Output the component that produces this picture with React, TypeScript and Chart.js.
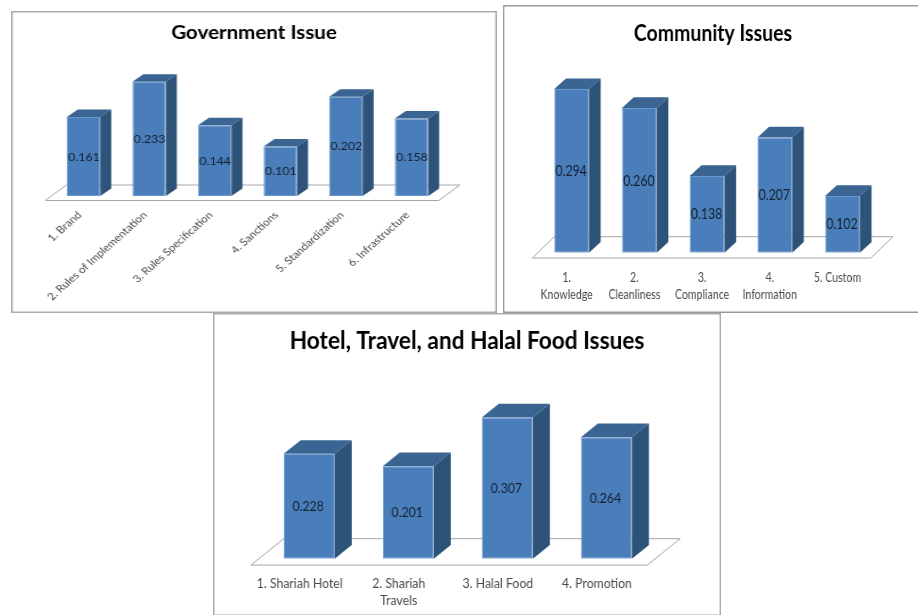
import React, { useEffect, useRef } from "react";
import { Chart, registerables } from "chart.js";

Chart.register(...registerables);

const governmentLabels = [
  "1. Brand",
  "2. Rules of Implementation",
  "3. Rules Specification",
  "4. Sanctions",
  "5. Standardization",
  "6. Infrastructure",
];
const governmentValues = [0.161, 0.233, 0.144, 0.101, 0.202, 0.158];

const communityLabels = [
  ["1.", "Knowledge"],
  ["2.", "Cleanliness"],
  ["3.", "Compliance"],
  ["4.", "Information"],
  "5. Custom",
];
const communityValues = [0.294, 0.26, 0.138, 0.207, 0.102];

const hotelLabels = [
  "1. Shariah Hotel",
  ["2. Shariah", "Travels"],
  "3. Halal Food",
  "4. Promotion",
];
const hotelValues = [0.228, 0.201, 0.307, 0.264];

const FRONT = "#4a7ebb";
const SIDE = "#2e5378";
const TOP = "#3a6492";
const EDGE = "#6d98cd";
const FLOOR = "#a6a6a6";

type Cfg = {
  title: string;
  labels: any[];
  values: number[];
  box: { x: number; y: number; w: number; h: number };
  k: number; // logical canvas px per screen px, horizontally
  frame: string;
  padL: number;
  padR: number;
  axisH: number;
  yMax: number;
  barPct: number;
  depth: [number, number];
  floor: { shift: number; front: number; back: number; dx: number };
  titleFont: any;
  titleTop: number;
  tickFont: any;
  tickPad: number;
  labelOffset: number;
  rotation: number;
  valueFont: string;
  valueShift: number;
};

const LATO = "Lato, sans-serif";

const charts: Cfg[] = [
  {
    title: "Government Issue",
    labels: governmentLabels,
    values: governmentValues,
    box: { x: 11, y: 11, w: 486, h: 302 },
    k: 0.877,
    frame: "#ababab",
    padL: 39.7,
    padR: 52.7,
    axisH: 117,
    yMax: 0.3138,
    barPct: 0.51,
    depth: [11, 7.5],
    floor: { shift: -5.5, front: 4.5, back: 11, dx: 21 },
    titleFont: { family: LATO, size: 18, weight: "bold", lineHeight: 1 },
    titleTop: 13,
    tickFont: { family: LATO, size: 10.2, lineHeight: 1.2 },
    tickPad: 13,
    labelOffset: -4,
    rotation: 45.5,
    valueFont: `10.9px ${LATO}`,
    valueShift: 0.5,
  },
  {
    title: "Community Issues",
    labels: communityLabels,
    values: communityValues,
    box: { x: 503, y: 5, w: 420, h: 308 },
    k: 1.18,
    frame: "#999999",
    padL: 34.8,
    padR: 46.7,
    axisH: 60.3,
    yMax: 0.3724,
    barPct: 0.5125,
    depth: [11.7, 10.7],
    floor: { shift: -5.5, front: 5.3, back: 16, dx: 22 },
    titleFont: { family: LATO, size: 23, weight: "bold", lineHeight: 1 },
    titleTop: 17.5,
    tickFont: { family: LATO, size: 12.5, lineHeight: 1.36 },
    tickPad: 16.5,
    labelOffset: -5,
    rotation: 0,
    valueFont: `14.5px ${LATO}`,
    valueShift: -0.5,
  },
  {
    title: "Hotel, Travel, and Halal Food Issues",
    labels: hotelLabels,
    values: hotelValues,
    box: { x: 213, y: 313, w: 508, h: 303 },
    k: 1.06,
    frame: "#ababab",
    padL: 46.6,
    padR: 65,
    axisH: 57.2,
    yMax: 0.447,
    barPct: 0.515,
    depth: [17, 13.7],
    floor: { shift: -8.7, front: 6.3, back: 20.1, dx: 32.8 },
    titleFont: { family: LATO, size: 24, weight: "bold", lineHeight: 1 },
    titleTop: 16,
    tickFont: { family: LATO, size: 13, lineHeight: 1.3 },
    tickPad: 17,
    labelOffset: -9.5,
    rotation: 0,
    valueFont: `13px ${LATO}`,
    valueShift: -1,
  },
];

const poly = (ctx: CanvasRenderingContext2D, pts: number[][], fill: string, stroke?: string) => {
  ctx.beginPath();
  pts.forEach(([x, y], i) => (i ? ctx.lineTo(x, y) : ctx.moveTo(x, y)));
  ctx.closePath();
  ctx.fillStyle = fill;
  ctx.fill();
  if (stroke) {
    ctx.strokeStyle = stroke;
    ctx.stroke();
  }
};

const threeD = (cfg: Cfg) => ({
  id: "threeD",
  afterLayout(chart: any) {
    // centre the title on the whole panel, not on the padded area
    if (chart.titleBlock) {
      chart.titleBlock.left = 0;
      chart.titleBlock.right = chart.width;
    }
  },
  beforeDraw(chart: any) {
    const { ctx, width, height } = chart;
    ctx.save();
    ctx.fillStyle = "#fff";
    ctx.fillRect(0, 0, width, height);
    ctx.lineWidth = 1.5;
    ctx.strokeStyle = cfg.frame;
    ctx.strokeRect(0.75, 0.75, width - 1.5, cfg.box.h - 1.5);
    ctx.restore();
  },
  beforeDatasetsDraw(chart: any) {
    const { ctx, chartArea } = chart;
    const { left, right, bottom } = chartArea;
    const f = cfg.floor;
    const k = cfg.k;
    ctx.save();
    ctx.lineWidth = 1;
    poly(
      ctx,
      [
        [left + f.shift * k, bottom + f.front],
        [right + f.shift * k, bottom + f.front],
        [right + (f.shift + f.dx) * k, bottom - f.back],
        [left + (f.shift + f.dx) * k, bottom - f.back],
      ],
      "#fff",
      FLOOR
    );
    const dx = cfg.depth[0] * k;
    const dy = cfg.depth[1];
    chart.getDatasetMeta(0).data.forEach((bar: any) => {
      const { x, y, base, width: w } = bar.getProps(["x", "y", "base", "width"], true);
      const l = x - w / 2;
      const r = x + w / 2;
      poly(ctx, [[r, y], [r + dx, y - dy], [r + dx, base - dy], [r, base]], SIDE);
      poly(ctx, [[l, y], [l + dx, y - dy], [r + dx, y - dy], [r, y]], TOP);
    });
    ctx.restore();
  },
  afterDatasetsDraw(chart: any) {
    const { ctx } = chart;
    ctx.save();
    ctx.font = cfg.valueFont;
    ctx.fillStyle = "#14202e";
    ctx.textAlign = "center";
    ctx.textBaseline = "middle";
    chart.getDatasetMeta(0).data.forEach((bar: any, i: number) => {
      const { x, y, base } = bar.getProps(["x", "y", "base"], true);
      ctx.fillText(cfg.values[i].toFixed(3), x + cfg.valueShift * cfg.k, (y + base) / 2 + 0.5);
    });
    ctx.restore();
  },
});

function Panel({ cfg }: { cfg: Cfg }) {
  const ref = useRef<HTMLCanvasElement>(null);
  const logicalW = Math.round(cfg.box.w * cfg.k);
  useEffect(() => {
    const chart = new Chart(ref.current as HTMLCanvasElement, {
      type: "bar",
      data: {
        labels: cfg.labels,
        datasets: [
          {
            data: cfg.values,
            backgroundColor: FRONT,
            borderColor: EDGE,
            borderWidth: 1,
            borderSkipped: false,
            barPercentage: cfg.barPct,
            categoryPercentage: 1,
          },
        ],
      },
      options: {
        animation: false,
        responsive: false,
        devicePixelRatio: 1,
        layout: { padding: { left: cfg.padL * cfg.k, right: cfg.padR * cfg.k, top: 0, bottom: 0 } },
        plugins: {
          legend: { display: false },
          tooltip: { enabled: false },
          title: {
            display: true,
            text: cfg.title,
            color: "#000",
            font: cfg.titleFont,
            padding: { top: cfg.titleTop, bottom: 0 },
          },
        },
        scales: {
          y: { display: false, min: 0, max: cfg.yMax },
          x: {
            grid: { display: false, drawTicks: false },
            border: { display: false },
            afterFit: (s: any) => {
              s.height = cfg.axisH;
              s.paddingLeft = 0;
              s.paddingRight = 0;
            },
            ticks: {
              autoSkip: false,
              color: "#4a4a4a",
              font: cfg.tickFont,
              padding: cfg.tickPad,
              labelOffset: cfg.labelOffset * cfg.k,
              minRotation: cfg.rotation,
              maxRotation: cfg.rotation,
            },
          },
        },
      } as any,
      plugins: [threeD(cfg)],
    });
    return () => chart.destroy();
  }, [cfg]);
  return (
    <canvas
      ref={ref}
      width={logicalW}
      height={cfg.box.h}
      style={{
        position: "absolute",
        left: cfg.box.x,
        top: cfg.box.y,
        width: logicalW,
        height: cfg.box.h,
        transform: `scaleX(${cfg.box.w / logicalW})`,
        transformOrigin: "0 0",
      }}
    />
  );
}

export default function App() {
  return (
    <div style={{ position: "fixed", inset: 0, overflow: "hidden", background: "#fff" }}>
      {charts.map((c) => (
        <Panel key={c.title} cfg={c} />
      ))}
    </div>
  );
}
